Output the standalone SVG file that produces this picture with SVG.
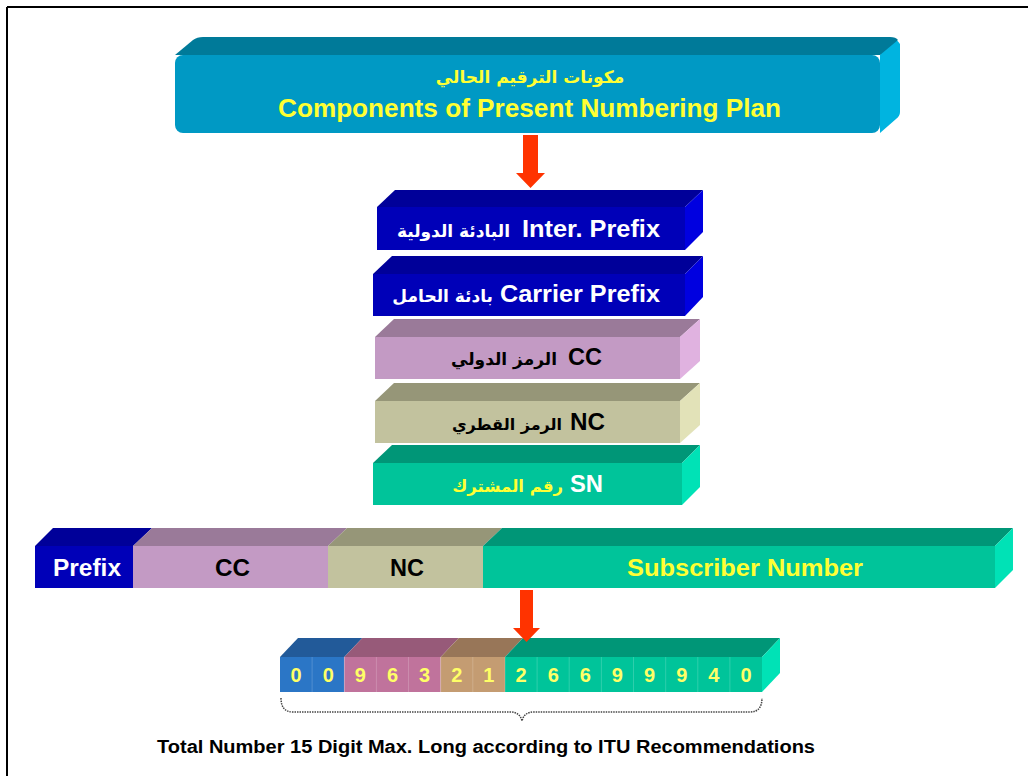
<svg xmlns="http://www.w3.org/2000/svg" width="1028" height="776" viewBox="0 0 1028 776">
  <style>
    .t { font-family: "Liberation Sans", "DejaVu Sans", Arial, sans-serif; font-weight: bold; }
    .ar { font-family: "DejaVu Sans", "Liberation Sans", sans-serif; font-weight: bold; font-size: 17px; }
    .ae { text-anchor: end; }
    .w { fill: #ffffff; }
    .k { fill: #000000; }
    .y { fill: #ffff33; }
    .dg { fill: #ffff66; font-size: 20px; text-anchor: middle; }
    .div { stroke: #ffffff; stroke-opacity: 0.18; stroke-width: 1; }
    /* face colours */
    .blF { fill: #0000b8; } .blT { fill: #000099; } .blS { fill: #0000e0; }
    .ccF { fill: #c39ac4; } .ccT { fill: #9a7a99; } .ccS { fill: #e0b2e0; }
    .ncF { fill: #c2c29e; } .ncT { fill: #969678; } .ncS { fill: #e2e2b8; }
    .snF { fill: #00c49a; } .snT { fill: #009677; } .snS { fill: #00e2b6; }
    .arrow { fill: #ff3300; }
  </style>

  <!-- page border (top and left edges) -->
  <line x1="7" y1="7" x2="1028" y2="7" stroke="#000" stroke-width="2"/>
  <line x1="7" y1="7" x2="7" y2="776" stroke="#000" stroke-width="2"/>

  <!-- title banner -->
  <g id="title">
    <path d="M888,40 Q895,36 900,44 L900,112 Q900,116 896,119 L880,133 L880,55 Z" fill="#00b4e0"/>
    <path d="M175,55 L193,40 Q197,37 203,37 L890,37 Q896,37 898,40 L880,55 Z" fill="#007a99"/>
    <rect x="175" y="55" width="705" height="78" rx="8" fill="#0099c4"/>
    <text class="ar y" x="530" y="83" text-anchor="middle">مكونات الترقيم الحالي</text>
    <text class="t y" x="278" y="117" font-size="25" textLength="503" lengthAdjust="spacingAndGlyphs">Components of  Present Numbering Plan</text>
  </g>

  <!-- stacked component bars -->
  <g id="inter-prefix">
    <polygon class="blT" points="377,207 395,190 703,190 685,207"/>
    <polygon class="blS" points="685,207 703,190 703,232 685,250"/>
    <rect class="blF" x="377" y="207" width="308" height="43"/>
    <text class="ar ae w" x="510" y="237">البادئة الدولية</text>
    <text class="t w" x="522" y="237" font-size="24" textLength="138" lengthAdjust="spacingAndGlyphs">Inter. Prefix</text>
  </g>

  <g id="carrier-prefix">
    <polygon class="blT" points="373,274 392,256 703,256 685,274"/>
    <polygon class="blS" points="685,274 703,256 703,297 685,316"/>
    <rect class="blF" x="373" y="274" width="312" height="42"/>
    <text class="ar ae w" x="493" y="302">بادئة الحامل</text>
    <text class="t w" x="500" y="302" font-size="24" textLength="160" lengthAdjust="spacingAndGlyphs">Carrier Prefix</text>
  </g>

  <g id="cc">
    <polygon class="ccT" points="375,337 394,319 700,319 680,337"/>
    <polygon class="ccS" points="680,337 700,319 700,361 680,379"/>
    <rect class="ccF" x="375" y="337" width="305" height="42"/>
    <text class="ar ae k" x="557" y="365">الرمز الدولي</text>
    <text class="t k" x="568" y="365" font-size="24" textLength="34" lengthAdjust="spacingAndGlyphs">CC</text>
  </g>

  <g id="nc">
    <polygon class="ncT" points="375,401 394,383 700,383 680,401"/>
    <polygon class="ncS" points="680,401 700,383 700,425 680,443"/>
    <rect class="ncF" x="375" y="401" width="305" height="42"/>
    <text class="ar ae k" x="562" y="430" style="font-size:16px">الرمز القطري</text>
    <text class="t k" x="570" y="430" font-size="24" textLength="35" lengthAdjust="spacingAndGlyphs">NC</text>
  </g>

  <g id="sn">
    <polygon class="snT" points="373,463 392,445 700,445 682,463"/>
    <polygon class="snS" points="682,463 700,445 700,487 682,505"/>
    <rect class="snF" x="373" y="463" width="309" height="42"/>
    <text class="ar ae y" x="563" y="492" style="font-size:16.5px">رقم المشترك</text>
    <text class="t w" x="570" y="492" font-size="24" textLength="33" lengthAdjust="spacingAndGlyphs">SN</text>
  </g>

  <!-- full number layout bar -->
  <g id="number-bar">
    <polygon class="blT" points="35,546 53,528 152,528 133,546"/>
    <polygon class="ccT" points="133,546 152,528 347,528 328,546"/>
    <polygon class="ncT" points="328,546 347,528 502,528 483,546"/>
    <polygon class="snT" points="483,546 502,528 1013,528 995,546"/>
    <polygon class="snS" points="995,546 1013,528 1013,570 995,588"/>
    <rect class="blF" x="35" y="546" width="98" height="42"/>
    <rect class="ccF" x="133" y="546" width="195" height="42"/>
    <rect class="ncF" x="328" y="546" width="155" height="42"/>
    <rect class="snF" x="483" y="546" width="512" height="42"/>
    <text class="t w" x="53" y="576" font-size="24" textLength="68" lengthAdjust="spacingAndGlyphs">Prefix</text>
    <text class="t k" x="215" y="576" font-size="24" textLength="35" lengthAdjust="spacingAndGlyphs">CC</text>
    <text class="t k" x="390" y="576" font-size="24" textLength="34" lengthAdjust="spacingAndGlyphs">NC</text>
    <text class="t y" x="627" y="576" font-size="24" textLength="236" lengthAdjust="spacingAndGlyphs">Subscriber Number</text>
  </g>

  <!-- example digit string -->
  <g id="digits">
    <polygon fill="#225a99" points="280,657 298,638 362.3,638 344.3,657"/>
    <polygon fill="#975a79" points="344.3,657 362.3,638 458.7,638 440.7,657"/>
    <polygon fill="#987658" points="440.7,657 458.7,638 523,638 505,657"/>
    <polygon class="snT" points="505,657 523,638 780,638 762,657"/>
    <polygon class="snS" points="762,657 780,638 780,673 762,692"/>
    <rect fill="#2b76c6" x="280" y="657" width="64.3" height="35"/>
    <rect fill="#c0739c" x="344.3" y="657" width="96.4" height="35"/>
    <rect fill="#c49c72" x="440.7" y="657" width="64.3" height="35"/>
    <rect class="snF" x="505" y="657" width="257" height="35"/>
    <g class="div">
      <line x1="312.1" y1="657" x2="312.1" y2="692"/>
      <line x1="344.3" y1="657" x2="344.3" y2="692"/>
      <line x1="376.4" y1="657" x2="376.4" y2="692"/>
      <line x1="408.5" y1="657" x2="408.5" y2="692"/>
      <line x1="440.7" y1="657" x2="440.7" y2="692"/>
      <line x1="472.8" y1="657" x2="472.8" y2="692"/>
      <line x1="505" y1="657" x2="505" y2="692"/>
      <line x1="537.1" y1="657" x2="537.1" y2="692"/>
      <line x1="569.2" y1="657" x2="569.2" y2="692"/>
      <line x1="601.4" y1="657" x2="601.4" y2="692"/>
      <line x1="633.5" y1="657" x2="633.5" y2="692"/>
      <line x1="665.7" y1="657" x2="665.7" y2="692"/>
      <line x1="697.8" y1="657" x2="697.8" y2="692"/>
      <line x1="729.9" y1="657" x2="729.9" y2="692"/>
    </g>
    <g class="t dg">
      <text x="296" y="682">0</text>
      <text x="328.2" y="682">0</text>
      <text x="360.3" y="682">9</text>
      <text x="392.5" y="682">6</text>
      <text x="424.6" y="682">3</text>
      <text x="456.7" y="682">2</text>
      <text x="488.9" y="682">1</text>
      <text x="521" y="682">2</text>
      <text x="553.2" y="682">6</text>
      <text x="585.3" y="682">6</text>
      <text x="617.4" y="682">9</text>
      <text x="649.6" y="682">9</text>
      <text x="681.7" y="682">9</text>
      <text x="713.9" y="682">4</text>
      <text x="746" y="682">0</text>
    </g>
  </g>

  <!-- connectors -->
  <g id="connectors">
    <polygon class="arrow" points="523,135 538,135 538,173 545,173 530.5,188 516,173 523,173"/>
    <polygon class="arrow" points="520,590 533,590 533,628 540,628 526.5,642 513,628 520,628"/>
    <path d="M281,698 Q281,712 293,712 L510,712 Q520,712 522,721 Q524,712 534,712 L750,712 Q762,712 762,698"
          fill="none" stroke="#444" stroke-width="1.5" stroke-dasharray="1.5 1"/>
  </g>

  <g id="caption">
    <text class="t k" x="157" y="753" font-size="18" textLength="658" lengthAdjust="spacingAndGlyphs">Total Number 15 Digit Max. Long according to ITU Recommendations</text>
  </g>
</svg>
